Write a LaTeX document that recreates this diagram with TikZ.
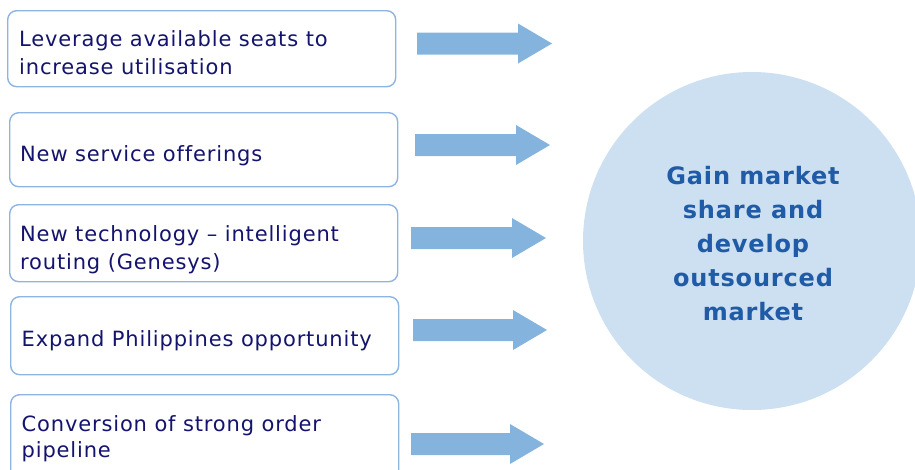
\documentclass[tikz,border=0pt]{standalone}
\usepackage{fontspec}
\setmainfont[Ligatures=NoCommon]{DejaVu Sans}
\definecolor{boxc}{HTML}{8DB4E2}
\definecolor{txtc}{HTML}{14146E}
\definecolor{arrc}{HTML}{84B4DE}
\definecolor{circc}{HTML}{CDE0F1}
\definecolor{circt}{HTML}{1F5BA6}
\begin{document}
\begin{tikzpicture}[x=1pt,y=-1pt,
  itembox/.style={draw=boxc,line width=1.4pt,rounded corners=9pt,fill=white,
    minimum width=388pt,anchor=north west,inner sep=0pt},
  itemtext/.style={anchor=base west,text=txtc,
    font=\fontsize{21}{27.8}\selectfont\addfontfeature{LetterSpace=4},align=left,inner sep=0pt},
]
\useasboundingbox (0,0) rectangle (915,469);
\clip (0,0) rectangle (915,469);
% circle
\node[circle,fill=circc,minimum size=338pt,inner sep=0pt] (goal) at (752,241) {};
\node[text=circt,font=\bfseries\fontsize{24}{34}\selectfont\addfontfeature{LetterSpace=3.5},align=center] (goaltext) at (753,244)
  {Gain market\\share and\\develop\\outsourced\\market};
% boxes
\node[itembox,minimum height=76pt] (b1) at (7,10) {};
\node[itembox,minimum height=74pt] (b2) at (9,112) {};
\node[itembox,minimum height=77pt] (b3) at (9,204) {};
\node[itembox,minimum height=78pt] (b4) at (10,296) {};
\node[itembox,minimum height=90pt] (b5) at (10,394) {};
% texts (anchored at the baseline of the last line)
\node[itemtext] (t1) at (19,74) {Leverage available seats to\\increase utilisation};
\node[itemtext] (t2) at (20,161.5) {New service offerings};
\node[itemtext] (t3) at (20,269.3) {New technology – intelligent\\routing (Genesys)};
\node[itemtext] (t4) at (21.5,346.5) {Expand Philippines opportunity};
\node[itemtext] (t5) at (21.5,457.7) {Conversion of strong order\\[-2pt]pipeline};
% arrows
\newcommand{\fatarr}[3]{% x-left, y-center, x-tip
  \fill[arrc] (#1,#2-11) -- (#3-34,#2-11) -- (#3-34,#2-20) -- (#3,#2) -- (#3-34,#2+20) -- (#3-34,#2+11) -- (#1,#2+11) -- cycle;}
\fatarr{417}{43.5}{552}
\fatarr{415}{145}{550}
\fatarr{411}{238}{546}
\fatarr{413}{330}{547}
\fatarr{411}{444}{544}
\end{tikzpicture}
\end{document}
